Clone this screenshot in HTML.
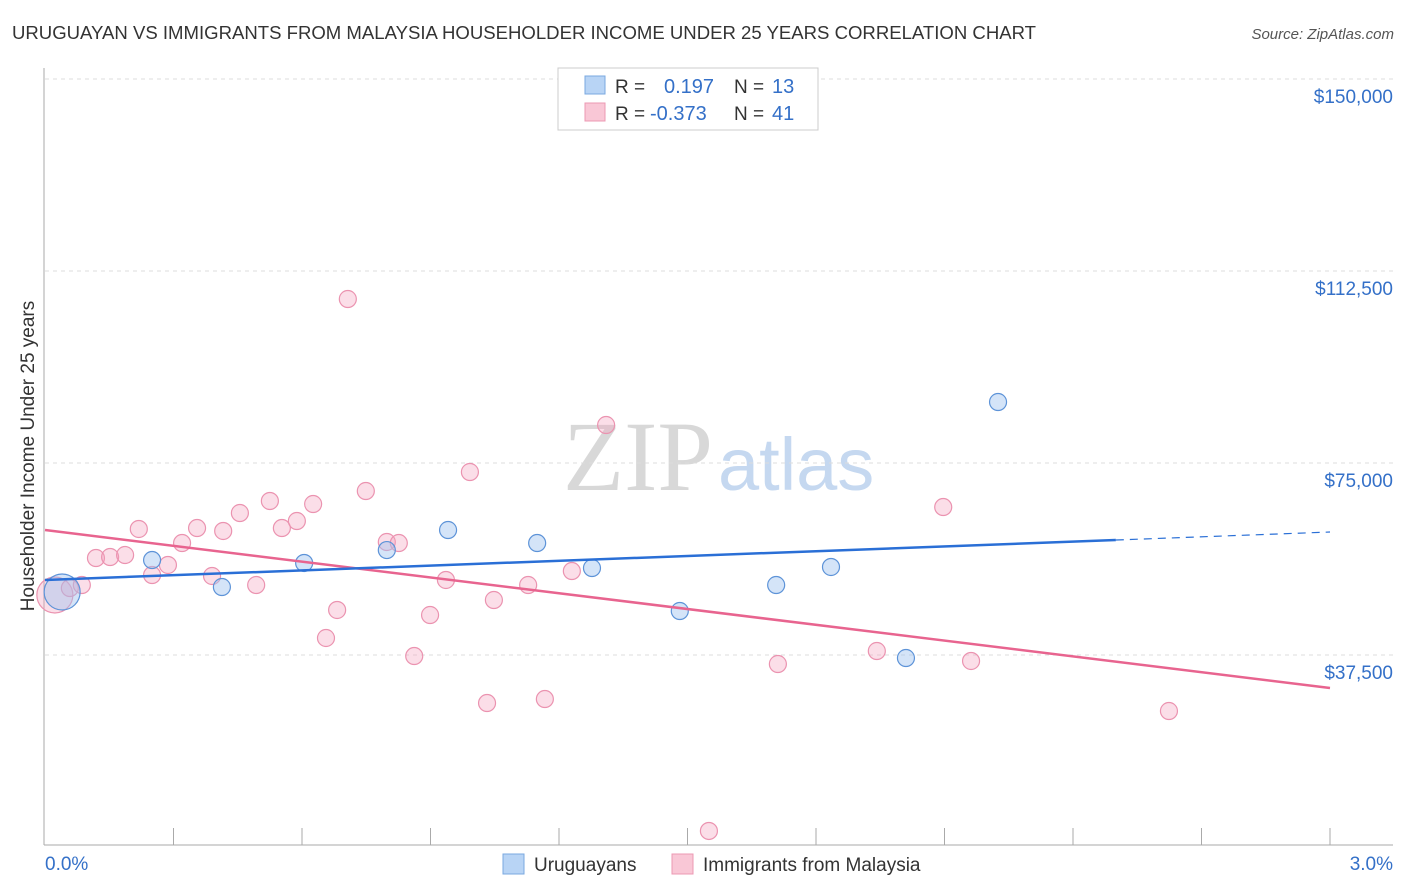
<!DOCTYPE html>
<html><head><meta charset="utf-8"><style>
body{margin:0;background:#fff;font-family:"Liberation Sans",sans-serif;}
#wrap{position:relative;width:1406px;height:892px;overflow:hidden;}
</style></head><body>
<div id="wrap">
<svg id="svg" width="1406" height="892" xmlns="http://www.w3.org/2000/svg" font-family="Liberation Sans, sans-serif">
<text x="12" y="39" font-size="18" fill="#333" textLength="1024" lengthAdjust="spacingAndGlyphs">URUGUAYAN VS IMMIGRANTS FROM MALAYSIA HOUSEHOLDER INCOME UNDER 25 YEARS CORRELATION CHART</text>
<text x="1394" y="39" font-size="15" fill="#555" font-style="italic" text-anchor="end">Source: ZipAtlas.com</text>
<text x="713" y="490" font-size="100" fill="#d8d8d8" text-anchor="end" font-family="Liberation Serif, serif">ZIP</text>
<text x="718" y="490" font-size="74" fill="#c5d8f0">atlas</text>
<text transform="translate(34,456) rotate(-90)" font-size="19" fill="#333" text-anchor="middle">Householder Income Under 25 years</text>
<g id="grid"></g><g id="axes"></g><g id="marks"></g>
<g>
<rect x="558" y="68" width="260" height="62" fill="#fff" stroke="#ccc"/>
<rect x="585" y="76" width="20" height="18" fill="#b8d4f5" stroke="#7aa8e0"/>
<rect x="585" y="103" width="20" height="18" fill="#f9c7d6" stroke="#ec98b3"/>
<text x="615" y="93" font-size="19" fill="#333">R = </text><text x="664" y="93" font-size="20" fill="#3470c8">0.197</text>
<text x="734" y="93" font-size="19" fill="#333">N = </text><text x="772" y="93" font-size="20" fill="#3470c8">13</text>
<text x="615" y="120" font-size="19" fill="#333">R = </text><text x="650" y="120" font-size="20" fill="#3470c8">-0.373</text>
<text x="734" y="120" font-size="19" fill="#333">N = </text><text x="772" y="120" font-size="20" fill="#3470c8">41</text>
</g>
<g>
<rect x="503" y="854" width="21" height="20" fill="#b8d4f5" stroke="#7aa8e0"/>
<text x="534" y="871" font-size="19" fill="#333">Uruguayans</text>
<rect x="672" y="854" width="21" height="20" fill="#f9c7d6" stroke="#ec98b3"/>
<text x="703" y="871" font-size="19" fill="#333">Immigrants from Malaysia</text>
</g>
</svg></div>
<script>
const yTicks=[37500,75000,112500,150000];
const yTickLabels=["$37,500","$75,000","$112,500","$150,000"];
const xTickLabels=["0.0%","3.0%"];
const blueX=[0.040,0.250,0.413,0.605,0.798,0.941,1.149,1.277,1.482,1.707,1.835,2.010,2.225];
const blueY=[49800,56050,50780,55470,58000,61910,59370,54490,46090,51170,54690,36910,86910];
const pinkX=[0.023,0.058,0.086,0.119,0.152,0.187,0.219,0.250,0.287,0.320,0.355,0.390,0.416,0.455,0.493,0.525,0.553,0.588,0.626,0.656,0.682,0.707,0.749,0.798,0.826,0.862,0.899,0.936,0.992,1.032,1.048,1.128,1.167,1.230,1.310,1.550,1.711,1.942,2.097,2.162,2.624];
const pinkY=[49220,50580,51170,56440,56640,57030,62110,53120,55080,59370,62300,52930,61720,65230,51170,67580,62300,63670,66990,40820,46290,107030,69530,59570,59370,37300,45310,52150,73240,28120,48240,51170,28900,53900,82420,3130,35740,38280,66400,36330,26560];
const blueTrend=[52150,61520];
const blueSolidEnd=[2.5];
const pinkTrend=[61910,31050];
const NS="http://www.w3.org/2000/svg";
const X=v=>45+v/3*1285, Y=v=>847-v/37500*192;
function mk(tag,attrs,parent){const e=document.createElementNS(NS,tag);for(const k in attrs)e.setAttribute(k,attrs[k]);parent.appendChild(e);return e;}
const grid=document.getElementById('grid'),axes=document.getElementById('axes'),marks=document.getElementById('marks');
yTicks.forEach((t,i)=>{
 const l=mk('line',{x1:45,x2:1393,y1:Y(t),y2:Y(t),stroke:'#ddd','stroke-dasharray':'4,4'},grid);
 
 
 const tx=mk('text',{x:1393,y:Y(t)+24,'font-size':19,fill:'#3470c8','text-anchor':'end'},axes);
 tx.textContent=yTickLabels[i];
 
 
});
let a=mk('line',{x1:44,x2:44,y1:68,y2:845,stroke:'#aaa'},axes);


a=mk('line',{x1:44,x2:1393,y1:845,y2:845,stroke:'#aaa'},axes);


for(let i=1;i<=10;i++){const t=mk('line',{x1:X(i*0.3),x2:X(i*0.3),y1:828,y2:845,stroke:'#aaa'},axes);
 
 }
[[0,45,'start'],[1,1393,'end']].forEach(([i,x,an])=>{const t=mk('text',{x:x,y:870,'font-size':19,fill:'#3470c8','text-anchor':an},axes);t.textContent=xTickLabels[i];
 
 });
function dots(xs,ys,fill,stroke,name,bigIdx){
 xs.forEach((x,i)=>{const c=mk('circle',{cx:X(x),cy:Y(ys[i]),r:i===bigIdx?18:8.5,fill:fill,stroke:stroke,'stroke-width':1.2},marks);
 
 });
}
dots(pinkX,pinkY,'rgba(244,160,188,0.35)','#eb93b0','point-malaysia',0);
dots(blueX,blueY,'rgba(160,196,240,0.45)','#5d93d8','point-uruguayan',0);
const lin=(tr,x)=>tr[0]+(tr[1]-tr[0])*x/3;
let l=mk('line',{x1:X(0),y1:Y(lin(pinkTrend,0)),x2:X(3),y2:Y(lin(pinkTrend,3)),stroke:'#e8648f','stroke-width':2.5},marks);


l=mk('line',{x1:X(0),y1:Y(lin(blueTrend,0)),x2:X(blueSolidEnd[0]),y2:Y(lin(blueTrend,blueSolidEnd[0])),stroke:'#2a6fd6','stroke-width':2.5},marks);


l=mk('line',{x1:X(blueSolidEnd[0]),y1:Y(lin(blueTrend,blueSolidEnd[0])),x2:X(3),y2:Y(lin(blueTrend,3)),stroke:'#2a6fd6','stroke-width':1.2,'stroke-dasharray':'8,6'},marks);


</script>
</body></html>
